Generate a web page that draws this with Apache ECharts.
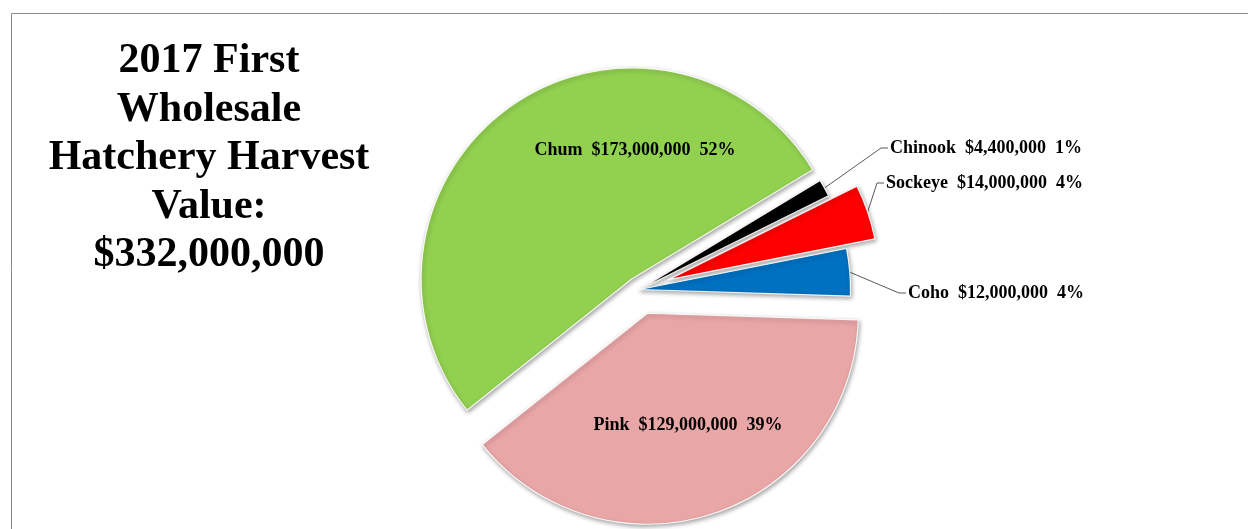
<!DOCTYPE html>
<html><head><meta charset="utf-8">
<script src="https://cdn.jsdelivr.net/npm/echarts@6/dist/echarts.min.js"></script>
<style>html,body{margin:0;padding:0;background:#fff}#c{width:1248px;height:529px}</style>
</head><body><div id="c"></div>
<script>
// ---- data ----
const categories = ['Chum', 'Chinook', 'Sockeye', 'Coho', 'Pink'];
const values = [173000000, 4400000, 14000000, 12000000, 129000000];
const titleLines = ['2017 First', 'Wholesale', 'Hatchery Harvest', 'Value:', '$332,000,000'];

// ---- styling / layout ----
const colors = { Chum: '#92D050', Chinook: '#000000', Sockeye: '#FF0000', Coho: '#0070C0', Pink: '#E9A6A7' };
const explode = { Chum: 13, Chinook: 0, Sockeye: 30, Coho: 0, Pink: 25 };
const insideLabel = { Chum: true, Pink: true };
const labelPos = {
  Chum: { x: 635, y: 150, align: 'center' },
  Pink: { x: 688, y: 425, align: 'center' },
  Chinook: { x: 890, y: 148, align: 'left' },
  Sockeye: { x: 886, y: 183, align: 'left' },
  Coho: { x: 908, y: 293, align: 'left' }
};
const pieCenter = [639.5, 289.5];
const pieRadius = 211;
const startAngle = 218.5;
const FONT = '"Liberation Serif", "Times New Roman", serif';

function money(v) {
  return '$' + String(v).replace(/\B(?=(\d{3})+(?!\d))/g, ',');
}

const total = values.reduce((a, b) => a + b, 0);
let acc = 0;
const midAngles = values.map(v => {
  const a0 = startAngle - acc / total * 360;
  acc += v;
  const a1 = startAngle - acc / total * 360;
  return (a0 + a1) / 2 * Math.PI / 180;
});

const series = categories.map((name, i) => {
  const off = explode[name];
  const cx = pieCenter[0] + off * Math.cos(midAngles[i]);
  const cy = pieCenter[1] - off * Math.sin(midAngles[i]);
  const inside = !!insideLabel[name];
  return {
    type: 'pie',
    name: name,
    radius: pieRadius,
    center: [cx, cy],
    startAngle: startAngle,
    clockwise: true,
    avoidLabelOverlap: false,
    silent: true,
    percentPrecision: 0,
    emphasis: { disabled: true },
    data: categories.map((n, j) => ({
      name: n,
      value: values[j],
      itemStyle: j === i ? {
        color: colors[n],
        borderColor: 'rgba(255,255,255,0.9)',
        borderWidth: 1.2,
        shadowBlur: 4,
        shadowOffsetX: 1,
        shadowOffsetY: 2,
        shadowColor: 'rgba(0,0,0,0.35)'
      } : { opacity: 0 },
      label: { show: j === i },
      labelLine: { show: j === i && !inside }
    })),
    label: {
      position: inside ? 'inside' : 'outside',
      formatter: p => p.name + '  ' + money(p.value) + '  ' + p.percent + '%',
      fontFamily: FONT,
      fontWeight: 'bold',
      fontSize: 18,
      color: '#000'
    },
    labelLine: { length: 20, length2: 6, lineStyle: { color: '#595959', width: 1 } },
    labelLayout: function (p) {
      const lp = labelPos[categories[p.dataIndex]];
      const res = { x: lp.x, y: lp.y, align: lp.align, verticalAlign: 'middle' };
      if (p.labelLinePoints && p.labelLinePoints.length) {
        const p0 = p.labelLinePoints[0];
        res.labelLinePoints = [[p0[0], p0[1]], [lp.x - 9, lp.y], [lp.x - 2, lp.y]];
      }
      return res;
    }
  };
});

const chart = echarts.init(document.getElementById('c'));
chart.setOption({
  animation: false,
  backgroundColor: '#ffffff',
  graphic: [
    {
      type: 'rect', silent: true, z: -10,
      shape: { x: 11.5, y: 13.5, width: 1400, height: 700 },
      style: { fill: 'none', stroke: '#8a8a8a', lineWidth: 1 }
    },
    {
      type: 'text', silent: true,
      x: 209, y: 37,
      style: {
        text: titleLines.join('\n'),
        align: 'center', verticalAlign: 'top',
        fontFamily: FONT, fontWeight: 'bold', fontSize: 42, lineHeight: 48.5,
        fill: '#000'
      }
    }
  ],
  series: series
});
</script>
</body></html>
